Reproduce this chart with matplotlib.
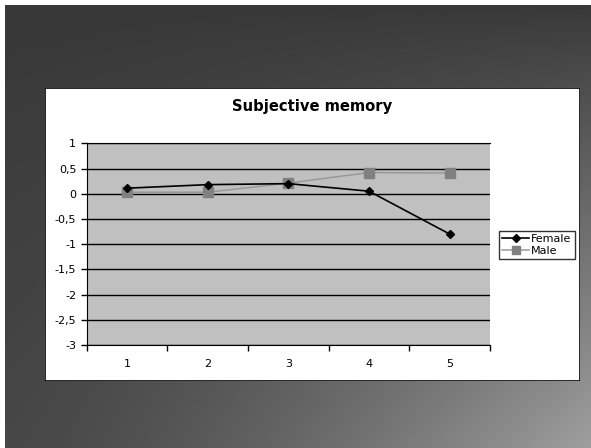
import numpy as np
import matplotlib.pyplot as plt
from matplotlib.patches import Rectangle

# dane
kategorie = [1, 2, 3, 4, 5]
kobiety = [0.11, 0.18, 0.20, 0.05, -0.80]
mezczyzni = [0.03, 0.03, 0.21, 0.42, 0.41]
y_ticki = [1, 0.5, 0, -0.5, -1, -1.5, -2, -2.5, -3]
y_etykiety = ['1', '0,5', '0', '-0,5', '-1', '-1,5', '-2', '-2,5', '-3']
tytul = 'Subjective memory'

fig = plt.figure(figsize=(5.91, 4.48), dpi=100)
fig.patch.set_facecolor('white')

# tlo slajdu - ciemnoszary gradient
tlo = fig.add_axes([5 / 591, 0, 586 / 591, 443 / 448])
xx, yy = np.meshgrid(np.linspace(0, 1, 300), np.linspace(0, 1, 230))
jasnosc = 0.22 + 0.34 * (xx ** 1.4) * (yy ** 0.9) + 0.06 * yy
tlo.imshow(jasnosc, cmap='gray', vmin=0, vmax=1, aspect='auto', extent=[0, 1, 1, 0])
tlo.set_axis_off()

# biala ramka wykresu
ramka = fig.add_axes([45 / 591, 1 - 381 / 448, 535 / 591, 293 / 448])
ramka.set_xlim(0, 1)
ramka.set_ylim(0, 1)
ramka.add_patch(Rectangle((0, 0), 1, 1, facecolor='white', edgecolor='black', lw=1.2))
ramka.set_axis_off()

fig.text(312 / 591, 1 - 107 / 448, tytul, ha='center', va='center',
         fontsize=10.6, fontweight='bold', color='black')

ax = fig.add_axes([86.7 / 591, 1 - 345 / 448, 403.3 / 591, 201.7 / 448])
ax.set_facecolor('#c0c0c0')
ax.set_xlim(0.5, 5.5)
ax.set_ylim(-3, 1)
ax.set_yticks(y_ticki)
ax.set_yticklabels(y_etykiety, fontsize=8)
ax.set_xticks([k - 0.5 for k in kategorie] + [5.5])
ax.set_xticklabels([])
ax.set_xticks(kategorie, minor=True)
ax.set_xticklabels([str(k) for k in kategorie], minor=True, fontsize=8)
ax.tick_params(axis='x', which='minor', length=0, pad=10)
ax.tick_params(axis='both', which='major', length=4, direction='out', width=1)
ax.grid(axis='y', color='black', lw=1)
ax.set_axisbelow(True)
ax.spines['right'].set_visible(False)
ax.spines['top'].set_color('black')

ax.plot(kategorie, kobiety, color='black', lw=1.2, marker='D', markersize=4.5,
        label='Female', zorder=4)
ax.plot(kategorie, mezczyzni, color='#999999', lw=1.1, marker='s', markersize=6.5,
        markerfacecolor='#808080', markeredgecolor='#808080', label='Male', zorder=3)

leg = fig.legend(loc='center left', bbox_to_anchor=(499 / 591, 1 - 245 / 448),
                 fontsize=8, frameon=True, fancybox=False, handlelength=2.4,
                 handletextpad=0.2, borderpad=0.3, labelspacing=0.2, borderaxespad=0,
                 markerscale=0.85)
leg.get_frame().set_edgecolor('black')
leg.get_frame().set_linewidth(1)

fig.savefig('out.png', dpi=100)
